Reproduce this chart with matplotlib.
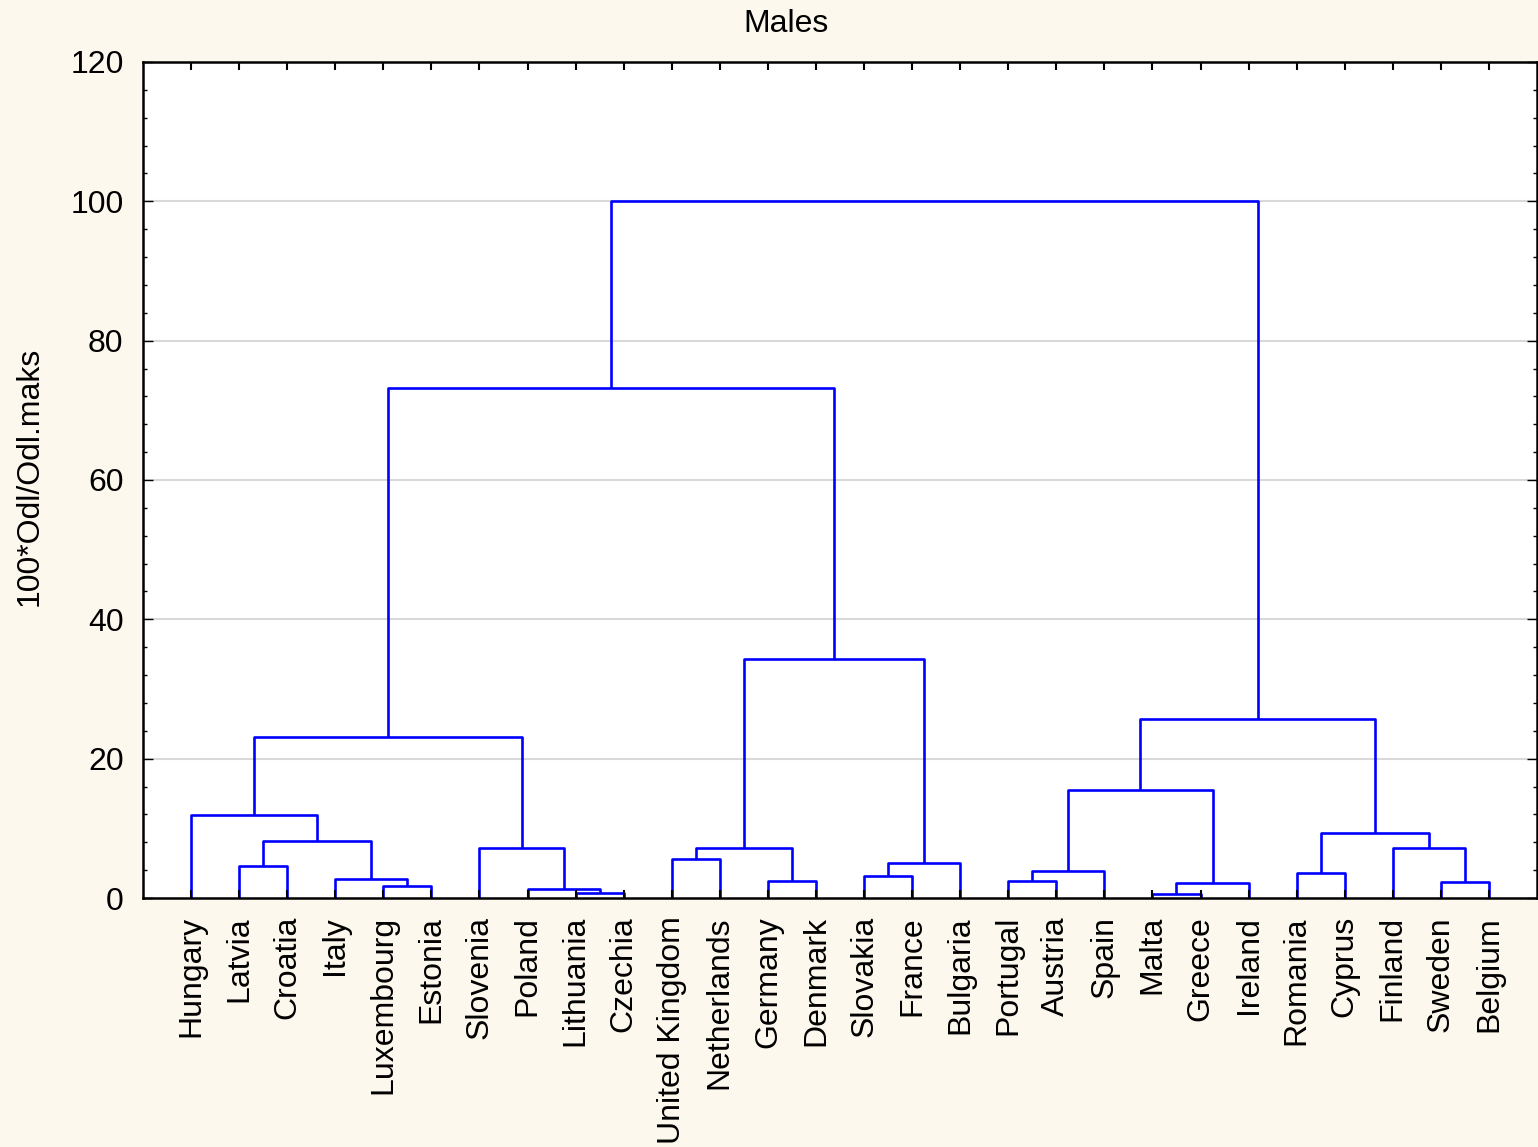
import matplotlib
matplotlib.use("Agg")
import matplotlib.pyplot as plt
from matplotlib.ticker import MultipleLocator, FixedLocator
from matplotlib.collections import LineCollection

plt.rcParams['font.family'] = ['Liberation Sans', 'DejaVu Sans']

# Leaf order along the x axis
countries = ["Hungary", "Latvia", "Croatia", "Italy", "Luxembourg", "Estonia",
             "Slovenia", "Poland", "Lithuania", "Czechia", "United Kingdom",
             "Netherlands", "Germany", "Denmark", "Slovakia", "France", "Bulgaria",
             "Portugal", "Austria", "Spain", "Malta", "Greece", "Ireland",
             "Romania", "Cyprus", "Finland", "Sweden", "Belgium"]

# Linkage: node ids >= len(countries) refer to earlier merges (in order)
merge_left = [20, 8, 7, 4, 28, 26, 17, 12, 3, 14, 23, 34, 1, 37, 10,
              6, 42, 25, 40, 38, 0, 39, 48, 49, 44, 50, 53]
merge_right = [21, 9, 29, 5, 22, 27, 18, 13, 31, 15, 24, 19, 2, 16, 11,
               30, 35, 33, 36, 45, 46, 32, 43, 47, 41, 52, 51]
merge_height = [0.57, 0.67, 1.3, 1.72, 2.1, 2.35, 2.44, 2.5, 2.77, 3.16, 3.54,
                3.9, 4.6, 4.97, 5.6, 7.15, 7.15, 7.15, 8.2, 9.3, 11.9, 15.5,
                23.1, 25.7, 34.3, 73.2, 100.0]

y_ticks = [0, 20, 40, 60, 80, 100, 120]

n = len(countries)
node_x = {i: float(i) for i in range(n)}
node_h = {i: 0.0 for i in range(n)}
segments = []
for k, (a, b, h) in enumerate(zip(merge_left, merge_right, merge_height)):
    xa, xb = node_x[a], node_x[b]
    segments.append([(xa, node_h[a]), (xa, h), (xb, h), (xb, node_h[b])])
    node_x[n + k] = (xa + xb) / 2.0
    node_h[n + k] = h

bg = "#FDF8EE"
fig = plt.figure(figsize=(15.38, 11.47), dpi=100, facecolor=bg)
ax = fig.add_axes([143 / 1538, 1 - 898 / 1147, (1537 - 143) / 1538, (898 - 62) / 1147])
ax.set_facecolor("white")

for y in y_ticks[1:-1]:
    ax.axhline(y, color="#D9D9D9", lw=1.5, zorder=1)

lc = LineCollection(segments, colors="#0000FF", linewidths=1.9, zorder=2)
ax.add_collection(lc)

ax.set_xlim(-1, n)
ax.set_ylim(0, 120)
ax.set_axisbelow(False)

ax.xaxis.set_major_locator(FixedLocator(range(n)))
ax.set_xticklabels(countries, rotation=90, fontsize=23)
ax.yaxis.set_major_locator(FixedLocator(y_ticks))
ax.yaxis.set_minor_locator(MultipleLocator(4))
ax.tick_params(axis="y", labelsize=23)
ax.tick_params(axis="both", which="major", direction="in", length=6, width=1.5,
               top=True, right=True, color="black")
ax.tick_params(axis="x", which="major", pad=13)
ax.tick_params(axis="y", which="major", pad=14, length=7, width=1)
ax.tick_params(axis="y", which="minor", direction="in", length=3, width=1,
               left=True, right=True)
for sp in ax.spines.values():
    sp.set_linewidth(1.8)
    sp.set_color("black")

fig.text(786 / 1538, 1 - 24 / 1147, "Males", ha="center", va="center", fontsize=23)
fig.text(30 / 1538, 1 - 476 / 1147, "100*Odl/Odl.maks", rotation=90,
         ha="center", va="center", fontsize=23)

fig.savefig("out.png", dpi=100, facecolor=bg)
